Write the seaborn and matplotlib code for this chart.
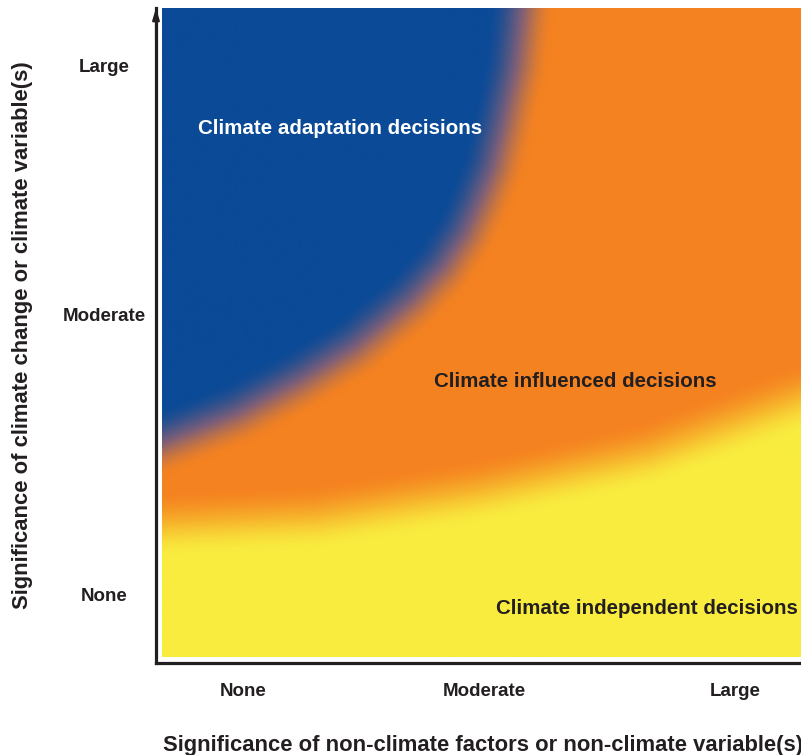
import numpy as np
import matplotlib
matplotlib.use("Agg")
import matplotlib.pyplot as plt
import seaborn as sns

# axis categories and where their labels sit (fraction of the coloured square)
x_labels = ["None", "Moderate", "Large"]
x_ticks = [0.125, 0.496, 0.883]
y_labels = ["None", "Moderate", "Large"]
y_ticks = [0.097, 0.527, 0.912]

# middle of the blue -> orange blend
blue_edge_x = [0.555, 0.545, 0.525, 0.510, 0.490, 0.467, 0.433, 0.385,
               0.297, 0.213, 0.117, 0.0]
blue_edge_y = [1.0, 0.909, 0.817, 0.755, 0.704, 0.653, 0.601, 0.550,
               0.478, 0.427, 0.376, 0.330]

# middle of the orange -> yellow blend
yellow_edge_x = [0.0, 0.237, 0.493, 0.749, 0.985]
yellow_edge_y = [0.205, 0.216, 0.257, 0.314, 0.401]

regions = ["Climate adaptation decisions",
           "Climate influenced decisions",
           "Climate independent decisions"]
# blue, blue/orange blend, orange, orange/yellow blend, yellow
zone_colors = ["#0b4a97", "#7d5f78", "#f58220", "#f7b52c", "#f9ec3f"]

DARK = "#231f20"


def polyline_distance(px, py, xs, ys):
    """Shortest distance from every grid point to a polyline."""
    best = np.full(px.shape, np.inf)
    for x0, y0, x1, y1 in zip(xs[:-1], ys[:-1], xs[1:], ys[1:]):
        dx, dy = x1 - x0, y1 - y0
        t = np.clip(((px - x0) * dx + (py - y0) * dy) / (dx * dx + dy * dy), 0, 1)
        best = np.minimum(best, np.hypot(px - (x0 + t * dx), py - (y0 + t * dy)))
    return best


def ramp(signed, width):
    t = np.clip(0.5 - signed / width, 0, 1)
    return t * t * (3 - 2 * t)


sns.set_theme(style="white")
plt.rcParams["font.family"] = ["Liberation Sans", "DejaVu Sans"]
plt.rcParams["font.weight"] = "bold"
plt.rcParams["axes.labelweight"] = "bold"

# colour field: signed distance to each boundary, softened into a ramp
n = 650
grid = (np.arange(n) + 0.5) / n
gx, gy = np.meshgrid(grid, grid)

bx, by = np.array(blue_edge_x), np.array(blue_edge_y)
d_blue = polyline_distance(gx, gy, bx, by)
in_blue = (gx < np.interp(gy, by[::-1], bx[::-1])) & (gy >= by.min())
w_blue = ramp(np.where(in_blue, -d_blue, d_blue), 0.105)

yx, yy = np.array(yellow_edge_x), np.array(yellow_edge_y)
d_yel = polyline_distance(gx, gy, yx, yy)
in_yel = gy < np.interp(gx, yx, yy)
w_yel = ramp(np.where(in_yel, -d_yel, d_yel), 0.105)

field = 0.5 - 0.5 * w_blue + 0.5 * w_yel
cmap = sns.blend_palette(zone_colors, n_colors=256, as_cmap=True)

fig = plt.figure(figsize=(8.01, 7.55), dpi=100)
ax = fig.add_axes([156 / 801, 92 / 755, 655 / 801, 655 / 755])
gap = 6 / 649

ax.imshow(field, extent=(0, 1, 0, 1), origin="lower", cmap=cmap, vmin=0, vmax=1,
          interpolation="bilinear", aspect="auto")
ax.set_xlim(-gap, 1)
ax.set_ylim(-gap, 1)

ax.set_xticks(x_ticks, x_labels)
ax.set_yticks(y_ticks, y_labels, ha="center")
ax.tick_params(axis="both", length=0, labelsize=13.5, colors=DARK)
ax.tick_params(axis="x", pad=14.5)
ax.tick_params(axis="y", pad=37.4)
ax.grid(False)

sns.despine(ax=ax)
for side in ["left", "bottom"]:
    ax.spines[side].set_linewidth(2.3)
    ax.spines[side].set_color(DARK)

ax.annotate("", xy=(-gap, 1.0), xytext=(-gap, 0.95),
            arrowprops=dict(arrowstyle="-|>,head_length=0.5,head_width=0.15",
                            color=DARK, lw=1.5, shrinkA=0, shrinkB=0,
                            mutation_scale=14),
            annotation_clip=False)

# the reference is cropped on the right, so this label runs off the edge there too
ax.set_xlabel("Significance of non-climate factors or non-climate variable(s)",
              fontsize=15.8, color=DARK, fontweight="bold")
ax.xaxis.set_label_coords(0.5, -0.110)
ax.set_ylabel("Significance of climate change or climate variable(s)",
              fontsize=15.8, color=DARK, fontweight="bold")
ax.yaxis.set_label_coords(-0.1878, 0.5)

ax.text(0.0555, 0.806, regions[0], color="white", fontsize=14.8, va="baseline")
ax.text(0.419, 0.416, regions[1], color=DARK, fontsize=14.8, va="baseline")
ax.text(0.515, 0.066, regions[2], color=DARK, fontsize=14.8, va="baseline")

fig.savefig("out.png", dpi=100)
